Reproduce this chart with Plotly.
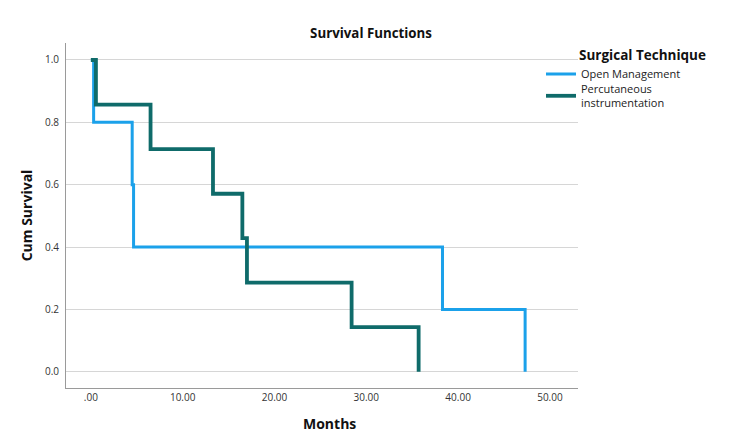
import plotly.graph_objects as go

# Data (months, cumulative survival)
open_t = [0, 0.3, 4.5, 4.65, 38.3, 47.3]
open_s = [1.0, 0.8, 0.6, 0.4, 0.2, 0.0]
perc_t = [0, 0.55, 6.5, 13.3, 16.5, 17.0, 28.4, 35.7]
perc_s = [1.0, 0.857, 0.714, 0.571, 0.429, 0.286, 0.143, 0.0]

x_ticks = [0, 10, 20, 30, 40, 50]
x_tick_labels = [".00", "10.00", "20.00", "30.00", "40.00", "50.00"]
y_ticks = [0.0, 0.2, 0.4, 0.6, 0.8, 1.0]
y_tick_labels = ["0.0", "0.2", "0.4", "0.6", "0.8", "1.0"]

BLUE = "#1ba1ea"
TEAL = "#0f6b6a"
FONT = "Open Sans"

fig = go.Figure()
fig.add_trace(go.Scatter(x=open_t, y=open_s, mode="lines", line_shape="hv",
                         line=dict(color=BLUE, width=3), name="Open Management",
                         legend="legend"))
fig.add_trace(go.Scatter(x=perc_t, y=perc_s, mode="lines", line_shape="hv",
                         line=dict(color=TEAL, width=3.8),
                         name="Percutaneous<br>instrumentation", legend="legend2"))

leg_common = dict(xref="container", yref="container", xanchor="left", yanchor="middle",
                  font=dict(size=11, color="#222"), itemwidth=30,
                  bgcolor="rgba(0,0,0,0)", borderwidth=0)

fig.update_layout(
    width=750, height=447,
    margin=dict(l=66, r=172, t=43, b=59, autoexpand=False),
    paper_bgcolor="white", plot_bgcolor="white",
    font=dict(family=FONT, color="#222"),
    title=dict(text="<b>Survival Functions</b>", x=371 / 750, xanchor="center",
               y=1 - 33 / 447, yanchor="middle", font=dict(size=13.3, color="#111")),
    showlegend=True,
    legend=dict(x=541 / 750, y=1 - 74 / 447, **leg_common),
    legend2=dict(x=541 / 750, y=1 - 96 / 447, **leg_common),
    annotations=[
        dict(text="<b>Surgical Technique</b>", xref="paper", yref="paper",
             x=(642 - 66) / (750 - 66 - 172), y=1 - (55 - 43) / (447 - 43 - 59),
             xanchor="center", yanchor="middle", showarrow=False,
             font=dict(size=13.5, color="#111", family=FONT)),
        dict(text="<b>Months</b>", xref="paper", yref="paper",
             x=(329 - 66) / (750 - 66 - 172), y=(388 - 423) / (447 - 43 - 59),
             xanchor="center", yanchor="middle", showarrow=False,
             font=dict(size=14, color="#111", family=FONT)),
    ],
)
fig.update_xaxes(range=[-2.71, 53.06], tickvals=x_ticks, ticktext=x_tick_labels,
                 showgrid=False, zeroline=False, showline=True, linecolor="#9a9a9a",
                 linewidth=1, ticks="", tickfont=dict(size=10, color="#333"))
fig.update_yaxes(range=[-0.052, 1.0545], tickvals=y_ticks, ticktext=y_tick_labels,
                 showgrid=True, gridcolor="#d6d6d6", gridwidth=1, zeroline=False,
                 showline=True, linecolor="#9a9a9a", linewidth=1, ticks="",
                 ticklabelstandoff=4,
                 tickfont=dict(size=10, color="#333"),
                 title=dict(text="<b>Cum Survival</b>", font=dict(size=14, color="#111"), standoff=9))

fig.write_html("out.html")
